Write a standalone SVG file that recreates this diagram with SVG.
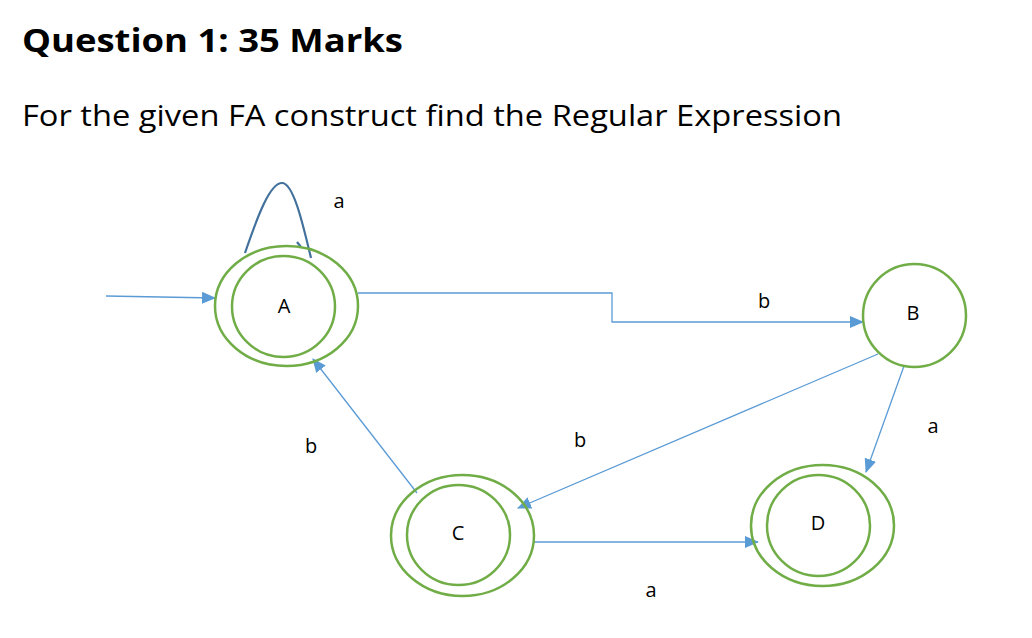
<svg xmlns="http://www.w3.org/2000/svg" width="1032" height="638" viewBox="0 0 1032 638">
<style>
.st{fill:none;stroke:#70ad47;stroke-width:2.5}
.ed{fill:none;stroke:#5b9bd5;stroke-width:1.3}
.lb{font-family:"Open Sans","Liberation Sans",Arial,sans-serif;font-size:20px;fill:#000;text-anchor:middle}
.tt{font-family:"Open Sans","Liberation Sans",Arial,sans-serif;fill:#000}
</style>
<defs>
<marker id="ah" markerUnits="userSpaceOnUse" markerWidth="14" markerHeight="12" refX="13" refY="6" orient="auto">
<path d="M0,0 L14,6 L0,12 Z" fill="#5b9bd5"/>
</marker>
</defs>
<rect width="1032" height="638" fill="#fff"/>
<text class="tt" x="22" y="52" font-size="33" font-weight="bold" textLength="381" lengthAdjust="spacingAndGlyphs">Question 1: 35 Marks</text>
<text class="tt" x="22" y="126" font-size="30" textLength="820" lengthAdjust="spacingAndGlyphs">For the given FA construct find the Regular Expression</text>
<g id="connectors">
<path class="ed" d="M106,296 L215,298" marker-end="url(#ah)"/>
<path class="ed" d="M358,293 L612,293 L612,322 L863,322" marker-end="url(#ah)"/>
<path class="ed" d="M878,354 L518,508" marker-end="url(#ah)"/>
<path class="ed" d="M904,366 L866,472" marker-end="url(#ah)"/>
<path class="ed" d="M417,493 L313,359" marker-end="url(#ah)"/>
<path class="ed" d="M534,542 L758,542" marker-end="url(#ah)"/>
<path d="M245,253 C258,215 270,183 282,183 C293,183 302,220 311,258" fill="none" stroke="#41719c" stroke-width="2.2"/>
<path d="M297,242 L301,247" fill="none" stroke="#41719c" stroke-width="2.2"/>
<text class="lb" x="339" y="208">a</text>
<text class="lb" x="764" y="308">b</text>
<text class="lb" x="580" y="447">b</text>
<text class="lb" x="933" y="433">a</text>
<text class="lb" x="311" y="453">b</text>
<text class="lb" x="651" y="597">a</text>
</g>
<g id="node-A">
<ellipse class="st" cx="286.5" cy="306" rx="71.5" ry="60"/>
<ellipse class="st" cx="283.5" cy="306.5" rx="51.5" ry="50.5"/>
<text class="lb" x="284" y="313">A</text>
</g>
<g id="node-B">
<circle class="st" cx="914.5" cy="315.5" r="51.5"/>
<text class="lb" x="913" y="320">B</text>
</g>
<g id="node-C">
<ellipse class="st" cx="462.5" cy="535.5" rx="71.5" ry="60.5"/>
<ellipse class="st" cx="458.5" cy="535" rx="51.5" ry="50"/>
<text class="lb" x="458" y="540">C</text>
</g>
<g id="node-D">
<ellipse class="st" cx="822.5" cy="525.5" rx="71.5" ry="60.5"/>
<ellipse class="st" cx="818.5" cy="525.5" rx="51.5" ry="50.5"/>
<text class="lb" x="818" y="530">D</text>
</g>
</svg>
